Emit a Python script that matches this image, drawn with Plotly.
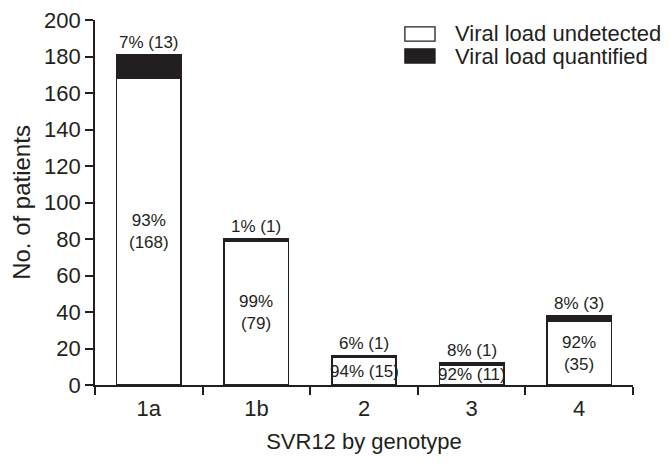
import plotly.graph_objects as go

genotypes = ["1a", "1b", "2", "3", "4"]
undetected = [168, 79, 15, 11, 35]
quantified = [13, 1, 1, 1, 3]
undetected_pct = ["93%", "99%", "94%", "92%", "92%"]
quantified_pct = ["7%", "1%", "6%", "8%", "8%"]
inner_multiline = [True, True, False, False, True]
series_names = ["Viral load undetected", "Viral load quantified"]

INK = "#231f20"
FONT = "Liberation Sans, Arial, sans-serif"

fig = go.Figure()
fig.add_trace(go.Bar(
    x=genotypes, y=undetected, name=series_names[0],
    marker=dict(color="white", line=dict(color=INK, width=1.6)),
    width=0.6, showlegend=False,
))
fig.add_trace(go.Bar(
    x=genotypes, y=quantified, name=series_names[1],
    marker=dict(color=INK, line=dict(color=INK, width=1.6)),
    width=0.6, showlegend=False,
))

for g, u, q, up, qp, ml in zip(genotypes, undetected, quantified,
                                undetected_pct, quantified_pct, inner_multiline):
    fig.add_annotation(x=g, y=u + q, text=f"{qp} ({q})", showarrow=False,
                       yanchor="bottom", yshift=1,
                       font=dict(size=17, color=INK, family=FONT))
    sep = "<br>" if ml else " "
    fig.add_annotation(x=g, y=u / 2, text=f"{up}{sep}({u})", showarrow=False,
                       yanchor="middle",
                       font=dict(size=17, color=INK, family=FONT))

# custom legend (boxes + labels)
legend_fill = ["white", INK]
legend_boxes_y = [(0.942, 0.981), (0.882, 0.921)]
legend_text_y = [0.962, 0.900]
for name, fill, (y0, y1), ty in zip(series_names, legend_fill, legend_boxes_y, legend_text_y):
    fig.add_shape(type="rect", xref="paper", yref="paper",
                  x0=0.576, x1=0.632, y0=y0, y1=y1,
                  fillcolor=fill, line=dict(color=INK, width=1.3))
    fig.add_annotation(xref="paper", yref="paper", x=0.665, y=ty, text=name,
                       showarrow=False, xanchor="left", yanchor="middle",
                       font=dict(size=22, color=INK, family=FONT))

fig.update_layout(
    width=671, height=469,
    barmode="stack",
    plot_bgcolor="white", paper_bgcolor="white",
    margin=dict(l=87, r=46, t=12, b=92),
    font=dict(family=FONT, color=INK, size=22),
    showlegend=False,
    xaxis=dict(
        title=dict(text="SVR12 by genotype", font=dict(size=22), standoff=13),
        showline=True, linecolor=INK, linewidth=1.6,
        ticks="outside", ticklen=8, tickwidth=1.6, tickcolor=INK,
        tickson="boundaries", showgrid=False, zeroline=False,
        tickfont=dict(size=22), automargin=False, ticklabelstandoff=3,
        ticklabeloverflow="allow",
    ),
    yaxis=dict(
        title=dict(text="No. of patients", font=dict(size=24), standoff=8),
        range=[0, 200], dtick=20,
        showline=True, linecolor=INK, linewidth=1.6,
        ticks="outside", ticklen=8, tickwidth=1.6, tickcolor=INK,
        showgrid=False, zeroline=False,
        tickfont=dict(size=22), automargin=False,
        ticklabeloverflow="allow",
    ),
)

fig.write_html("out.html")
